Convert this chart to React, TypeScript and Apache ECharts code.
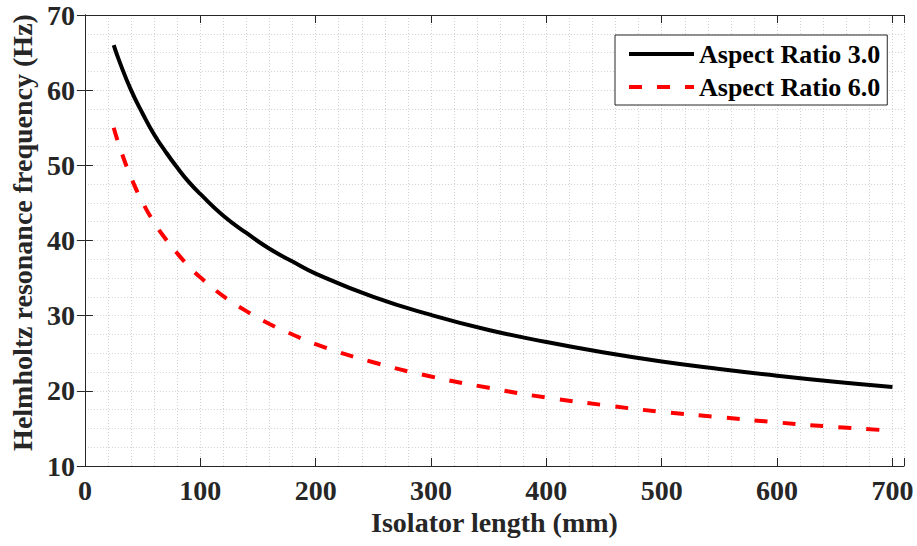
import React, { useEffect, useRef } from "react";
import * as echarts from "echarts";

const lengths = [25, 30, 40, 50, 60, 70, 80, 90, 100, 120, 140, 160, 180, 200, 250, 300, 350, 400, 450, 500, 550, 600, 650, 700];
const ratio3 = [66.0, 63.8, 60.0, 56.9, 54.1, 51.8, 49.7, 47.8, 46.2, 43.3, 41.0, 38.9, 37.2, 35.6, 32.5, 30.1, 28.1, 26.5, 25.1, 23.9, 22.9, 22.0, 21.2, 20.5];
const ratio6 = [55.0, 52.5, 48.4, 45.1, 42.4, 40.2, 38.3, 36.6, 35.1, 32.6, 30.6, 28.9, 27.5, 26.2, 23.8, 21.9, 20.4, 19.1, 18.1, 17.2, 16.5, 15.8, 15.2, 14.7];
const seriesNames = ["Aspect Ratio 3.0", "Aspect Ratio 6.0"];
const xName = "Isolator length (mm)";
const yName = "Helmholtz resonance frequency (Hz)";

const FONT = "'Liberation Serif', 'Times New Roman', serif";
const DARK = "#262626";
const GRID = "#d2d2d2";

export default function App() {
  const ref = useRef<HTMLDivElement>(null);
  useEffect(() => {
    if (!ref.current) return;
    const chart = echarts.init(ref.current, null, { renderer: "svg" });
    const dotted = { show: true, lineStyle: { color: GRID, type: [1, 2] as any, width: 1 } };
    const tickStyle = { show: true, inside: true, length: 8, lineStyle: { color: DARK, width: 1 } };
    const axisLine = { show: true, lineStyle: { color: DARK, width: 1 } };
    const xLabelFmt = (v: number) => (v % 100 === 0 ? String(v) : "");
    chart.setOption({
      animation: false,
      backgroundColor: "#ffffff",
      grid: { left: 83, top: 15, width: 821, height: 451, show: false },
      legend: {
        orient: "vertical",
        left: 615,
        top: 35,
        padding: [6, 7, 5, 12],
        itemWidth: 65,
        itemHeight: 26,
        itemGap: 7,
        backgroundColor: "#ffffff",
        borderColor: DARK,
        borderWidth: 1,
        borderRadius: 0,
        itemStyle: { opacity: 0 },
        lineStyle: { width: 4 },
        textStyle: { fontFamily: FONT, fontWeight: "bold", fontSize: 26, color: "#000", padding: [0, 0, 0, 0] },
        data: seriesNames,
      },
      xAxis: [
        {
          type: "value",
          min: 0,
          max: 710,
          interval: 100,
          position: "bottom",
          name: xName,
          nameLocation: "middle",
          nameGap: 42,
          nameTextStyle: { fontFamily: FONT, fontWeight: "bold", fontSize: 28, color: DARK },
          axisLine,
          axisTick: tickStyle,
          axisLabel: { formatter: xLabelFmt, fontFamily: FONT, fontWeight: "bold", fontSize: 28, color: DARK, margin: 10 },
          splitLine: dotted,
          minorTick: { show: false, splitNumber: 5 },
          minorSplitLine: dotted,
        },
        {
          type: "value",
          min: 0,
          max: 710,
          interval: 100,
          position: "top",
          axisLine,
          axisTick: tickStyle,
          axisLabel: { show: false },
          splitLine: { show: false },
        },
      ],
      yAxis: [
        {
          type: "value",
          min: 10,
          max: 70,
          interval: 10,
          position: "left",
          name: yName,
          nameLocation: "middle",
          nameGap: 40,
          nameTextStyle: { fontFamily: FONT, fontWeight: "bold", fontSize: 28, color: DARK, padding: [0, 0, 0, 16] },
          axisLine,
          axisTick: tickStyle,
          axisLabel: { fontFamily: FONT, fontWeight: "bold", fontSize: 28, color: DARK, margin: 10 },
          splitLine: dotted,
          minorTick: { show: false, splitNumber: 4 },
          minorSplitLine: dotted,
        },
        {
          type: "value",
          min: 10,
          max: 70,
          interval: 10,
          position: "right",
          axisLine,
          axisTick: tickStyle,
          axisLabel: { show: false },
          splitLine: { show: false },
        },
      ],
      series: [
        {
          name: seriesNames[0],
          type: "line",
          xAxisIndex: 0,
          yAxisIndex: 0,
          smooth: true,
          symbol: "none",
          lineStyle: { color: "#000000", width: 4, type: "solid" },
          itemStyle: { color: "#000000" },
          data: lengths.map((x, i) => [x, ratio3[i]]),
        },
        {
          name: seriesNames[1],
          type: "line",
          xAxisIndex: 0,
          yAxisIndex: 0,
          smooth: true,
          symbol: "none",
          lineStyle: { color: "#ff0000", width: 4, type: [13, 15] as any },
          itemStyle: { color: "#ff0000" },
          data: lengths.map((x, i) => [x, ratio6[i]]),
        },
      ],
    });
    return () => chart.dispose();
  }, []);
  return <div ref={ref} style={{ position: "fixed", left: 0, top: 0, width: 917, height: 546, background: "#fff" }} />;
}
